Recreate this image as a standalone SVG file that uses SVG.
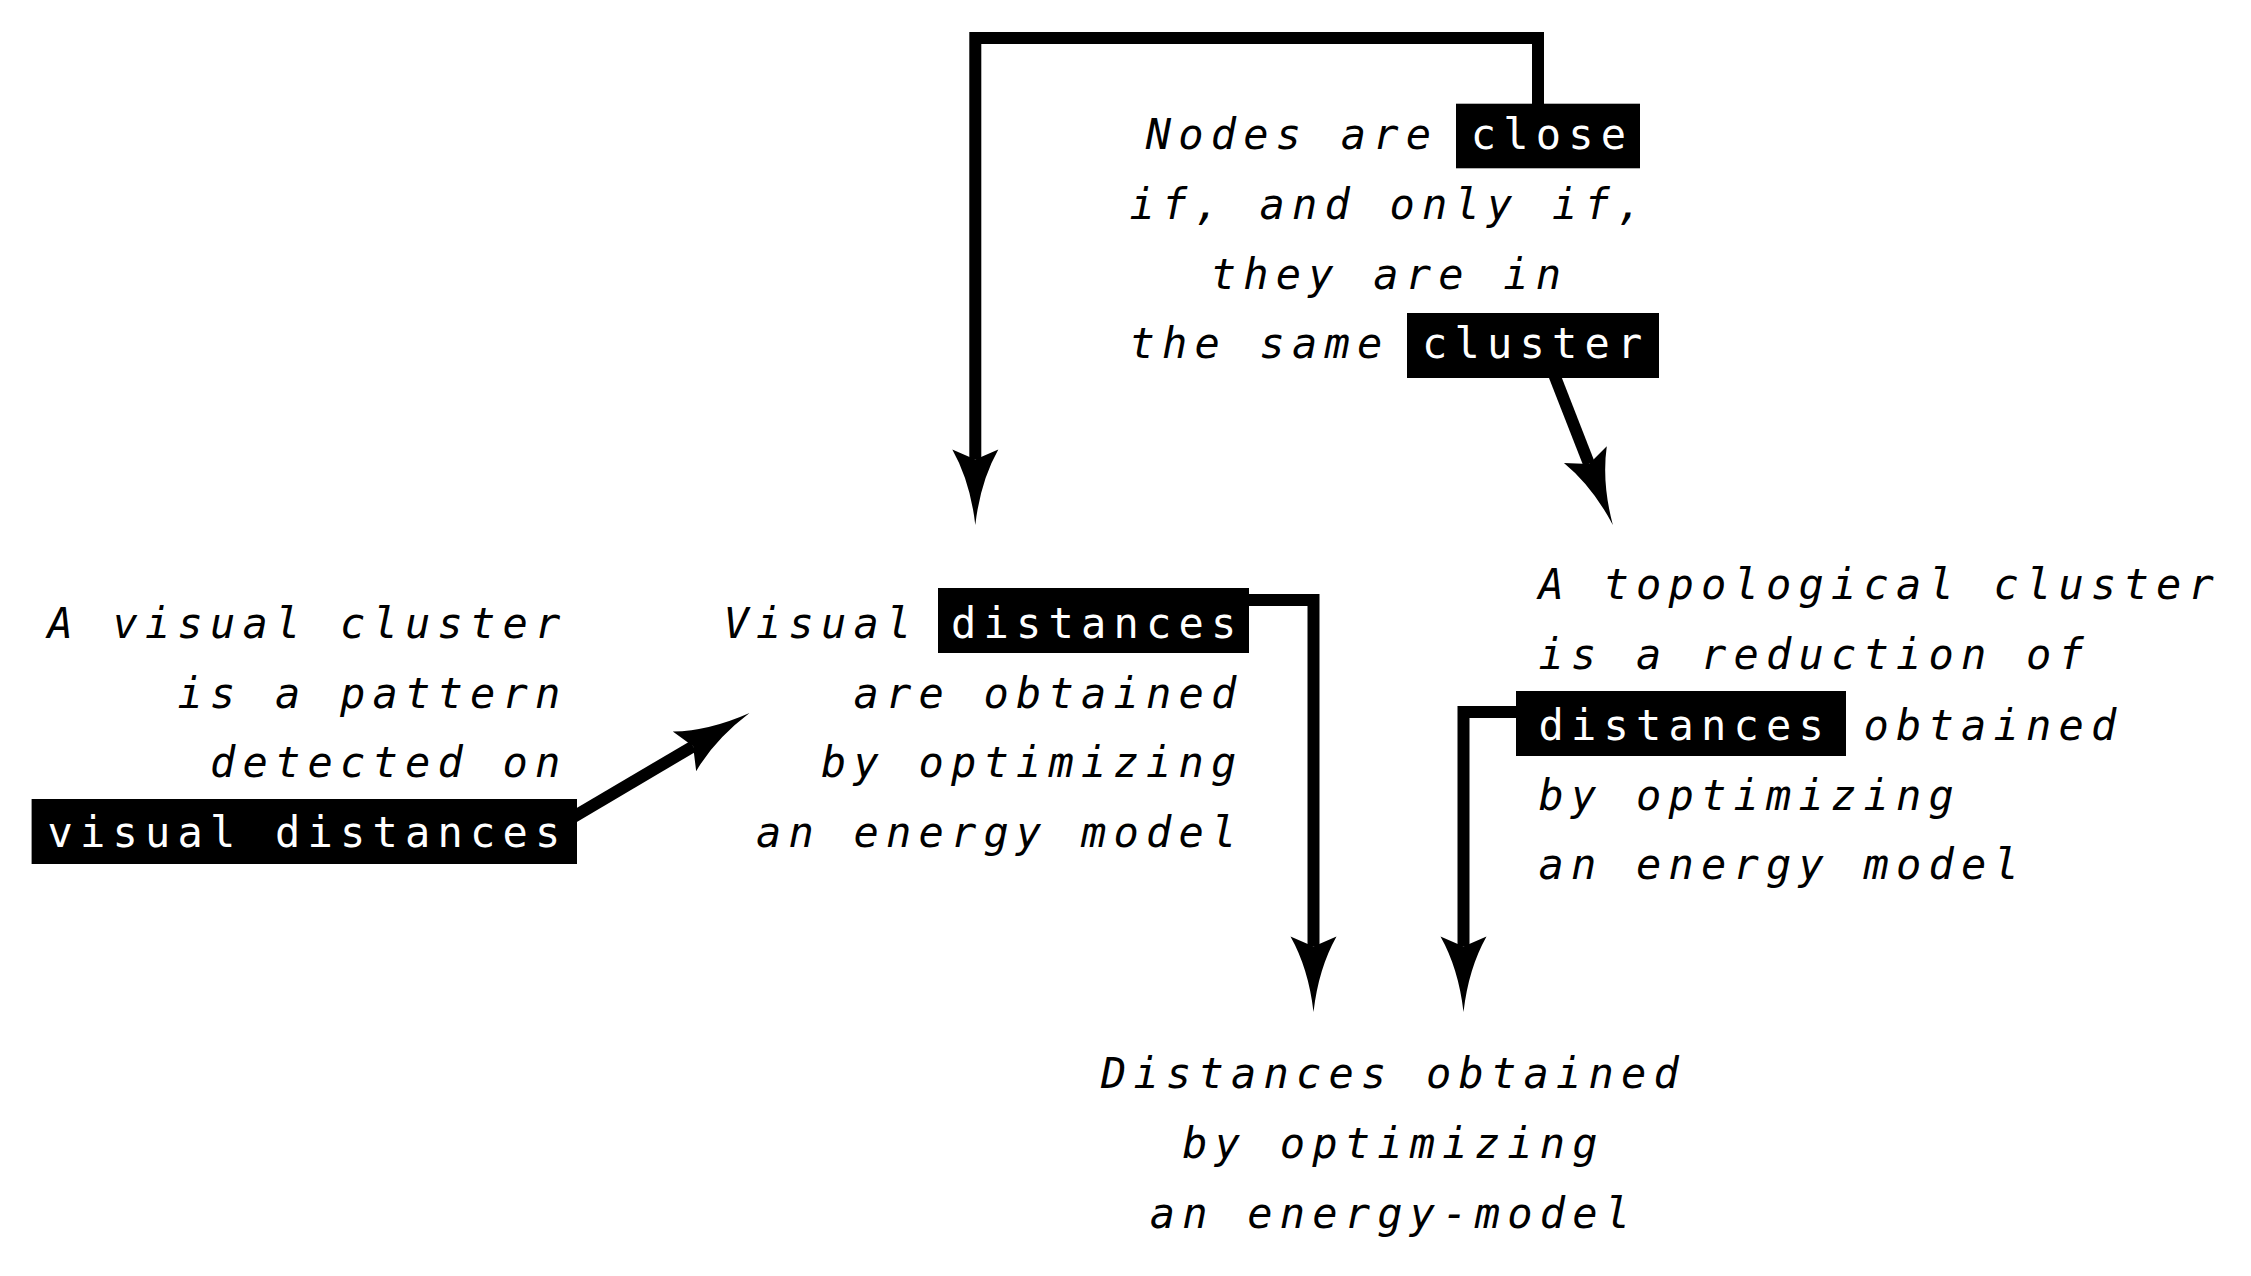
<svg xmlns="http://www.w3.org/2000/svg" width="2251" height="1276" viewBox="0 0 2251 1276">
<style>
  text { font-family: "DejaVu Sans Mono", "Liberation Mono", monospace; font-size: 42px; letter-spacing: 7.21px; fill: #000; font-style: italic; }
  .hl { font-style: normal; fill: #fff; }
  .box { fill: #000; }
  .conn { fill: none; stroke: #000; stroke-width: 12; stroke-linejoin: miter; stroke-linecap: butt; marker-end: url(#spear); }
</style>
<defs>
  <marker id="spear" markerUnits="userSpaceOnUse" orient="auto" refX="0" refY="0" markerWidth="100" markerHeight="60" overflow="visible">
    <path d="M65.5,0 Q22,-5 -10,-23 L0,0 L-10,23 Q22,5 65.5,0 Z" fill="#000"/>
  </marker>
</defs>
<rect x="0" y="0" width="2251" height="1276" fill="#fff"/>

<g id="connectors">
  <path class="conn" d="M1538,106 V38 H975.3 V459.5"/>
  <path class="conn" d="M1553.6,373.3 L1589,463.9"/>
  <path class="conn" d="M570,819 L693.1,746.3"/>
  <path class="conn" d="M1245,600 H1313.5 V946.5"/>
  <path class="conn" d="M1520,712 H1463.5 V946.5"/>
</g>

<g id="node-close-cluster">
  <rect class="box" x="1456" y="103.7" width="184" height="64.6"/>
  <rect class="box" x="1407" y="313" width="252" height="65"/>
  <text x="1145.85" y="149">Nodes are <tspan class="hl">close</tspan></text>
  <text x="1129.6" y="218.5">if, and only if,</text>
  <text x="1210.85" y="288.5">they are in</text>
  <text x="1129.6" y="358">the same <tspan class="hl">cluster</tspan></text>
</g>

<g id="node-visual-cluster">
  <rect class="box" x="31.6" y="799" width="545.4" height="65"/>
  <text x="47.6" y="638">A visual cluster</text>
  <text x="177.6" y="708">is a pattern</text>
  <text x="210.1" y="777">detected on</text>
  <text x="47.6" y="847"><tspan class="hl">visual distances</tspan></text>
</g>

<g id="node-visual-distances">
  <rect class="box" x="938" y="588" width="311" height="65"/>
  <text x="723.6" y="638">Visual <tspan class="hl">distances</tspan></text>
  <text x="853.6" y="708">are obtained</text>
  <text x="821.1" y="777">by optimizing</text>
  <text x="756.1" y="847">an energy model</text>
</g>

<g id="node-topological-cluster">
  <rect class="box" x="1516" y="691" width="330" height="65"/>
  <text x="1538.6" y="599">A topological cluster</text>
  <text x="1538.6" y="669">is a reduction of</text>
  <text x="1538.6" y="740"><tspan class="hl">distances</tspan> obtained</text>
  <text x="1538.6" y="810">by optimizing</text>
  <text x="1538.6" y="879">an energy model</text>
</g>

<g id="node-distances">
  <text x="1101.1" y="1088">Distances obtained</text>
  <text x="1182.35" y="1158">by optimizing</text>
  <text x="1149.85" y="1228">an energy-model</text>
</g>
</svg>
